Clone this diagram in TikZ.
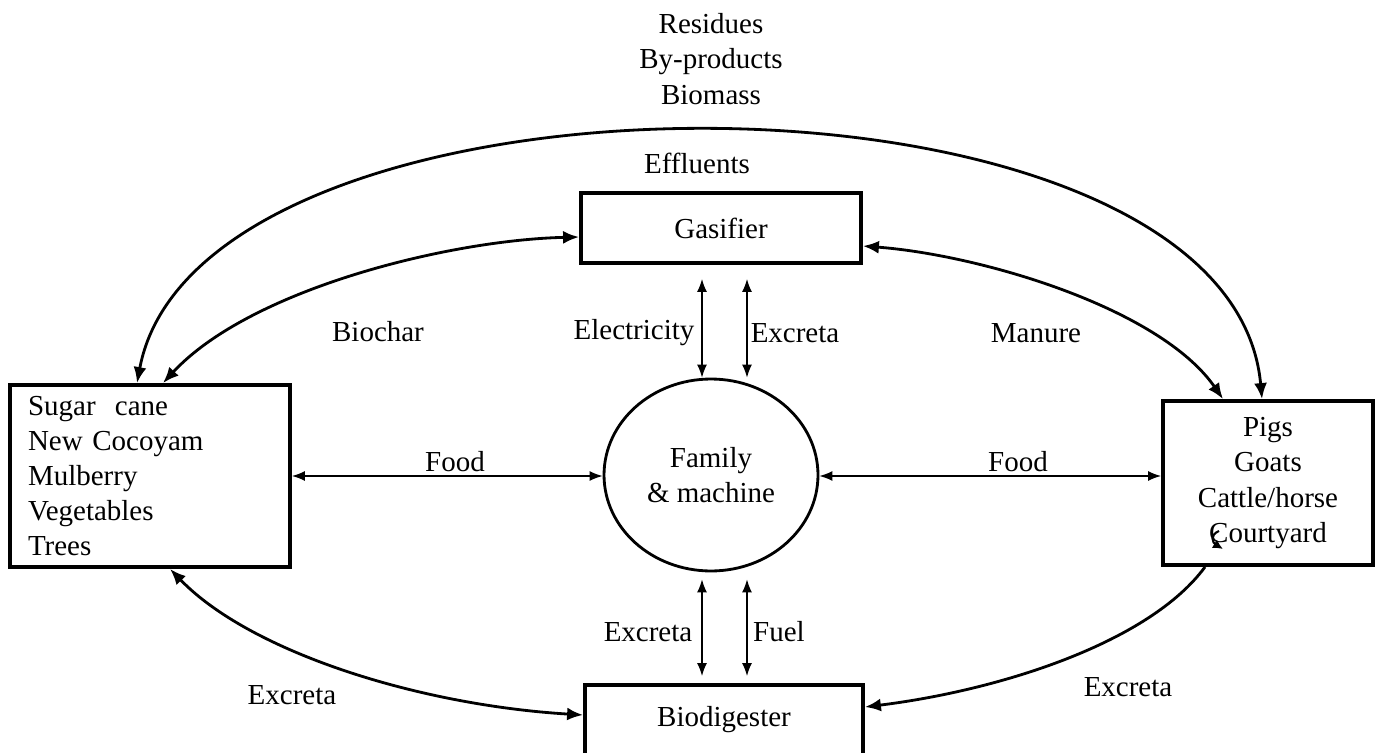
\documentclass[tikz,border=0pt]{standalone}
\usepackage{fontspec}
\setmainfont{Liberation Serif}
\usetikzlibrary{arrows.meta,shapes.geometric,calc}

\begin{document}
\begin{tikzpicture}[x=0.02cm,y=-0.02cm,
    every node/.style={font=\fontsize{16.5}{20}\selectfont},
    box/.style={draw,line width=2.2pt,inner sep=0pt},
    bigline/.style={line width=1.6pt,-{Latex[length=0.32cm,width=0.26cm]}},
    bigboth/.style={line width=1.6pt,{Latex[length=0.32cm,width=0.26cm]}-{Latex[length=0.32cm,width=0.26cm]}},
    thinboth/.style={line width=0.8pt,{Latex[length=0.26cm,width=0.2cm]}-{Latex[length=0.26cm,width=0.2cm]}}]
             \useasboundingbox (0,0) rectangle (1382,753);
             \clip (0,0) rectangle (1382,753);

             % boxes
             \node[box,minimum width=5.6cm,minimum height=1.4cm] (gasifier) at (721,228) {Gasifier};
             \node[box,minimum width=5.56cm,minimum height=1.4cm] (biodig) at (724,720) {Biodigester};
             \node[draw,ellipse,line width=1.6pt,minimum width=4.28cm,minimum height=3.84cm,align=center] (family) at (711,475) {Family\\ \& machine};
             \node[box,minimum height=3.64cm,text width=4.88cm,align=left,inner xsep=0.36cm] (crops) at (150,476)
                  {Sugar\ \ cane\\New Cocoyam\\Mulberry\\Vegetables\\Trees};
             \node[box,minimum width=4.2cm,minimum height=3.28cm,align=center] (livestock) at (1268,483)
                  {Pigs\\Goats\\Cattle/horse\\Courtyard};

             % labels
             \node[align=center] (residues) at (711,59) {Residues\\By-products\\Biomass};
             \node (effluents) at (697,163) {Effluents};
             \node (biochar) at (378,332) {Biochar};
             \node (manure) at (1036,333) {Manure};
             \node (elec) at (634,333) {Electricity};
             \node (excretatop) at (795,333) {Excreta};
             \node (excretamid) at (648,632) {Excreta};
             \node (fuel) at (779,632) {Fuel};
             \node (foodleft) at (455,462) {Food};
             \node (foodright) at (1018,462) {Food};
             \node (excretaleft) at (292,695) {Excreta};
             \node (excretaright) at (1128,687) {Excreta};

             % straight arrows
             \draw[thinboth] (crops.east) -- (crops.east -| family.west);
             \draw[thinboth] (family.east |- crops.east) -- (livestock.west |- crops.east);
             \draw[thinboth] ($(gasifier.south)+(-19,14)$) -- ($(gasifier.south |- family.north)+(-19,0)$);
             \draw[thinboth] ($(gasifier.south)+(26,14)$) -- ($(gasifier.south |- family.north)+(26,0)$);
             \draw[thinboth] ($(biodig.north |- family.south)+(-22,7)$) -- ($(biodig.north)+(-22,-7)$);
             \draw[thinboth] ($(biodig.north |- family.south)+(23,7)$) -- ($(biodig.north)+(23,-7)$);

             % curved arrows
             \draw[bigboth] ($(crops.north)+(-13,0)$) .. controls +(63,-337) and +(-32,-354) .. ($(livestock.north)+(-6,0)$);
             \draw[bigboth] ($(crops.north)+(13,0)$) .. controls +(87,-94) and +(-130,3) .. ($(gasifier.west)+(0,9)$);
             \draw[bigboth] ($(gasifier.east)+(0,18)$) .. controls +(118,9) and +(-63,-91) .. ($(livestock.north)+(-45,0)$);
             \draw[bigboth] ($(crops.south)+(20,0)$) .. controls +(80,83) and +(-165,-10) .. ($(biodig.west)+(0,-5)$);
             \draw[bigline] ($(livestock.south)+(-63,0)$) .. controls +(-55,75) and +(137,-17) .. ($(biodig.east)+(0,-13)$);

             % stray tip on Courtyard
             \coordinate (stray) at ($(livestock.center)+(-45,66)$);
             \draw[line width=1.2pt,-{Latex[length=0.2cm,width=0.2cm]}] ($(stray)+(-4,-18)$) .. controls +(-10,4) and +(-10,-6) .. (stray);
             \end{tikzpicture}
\end{document}
